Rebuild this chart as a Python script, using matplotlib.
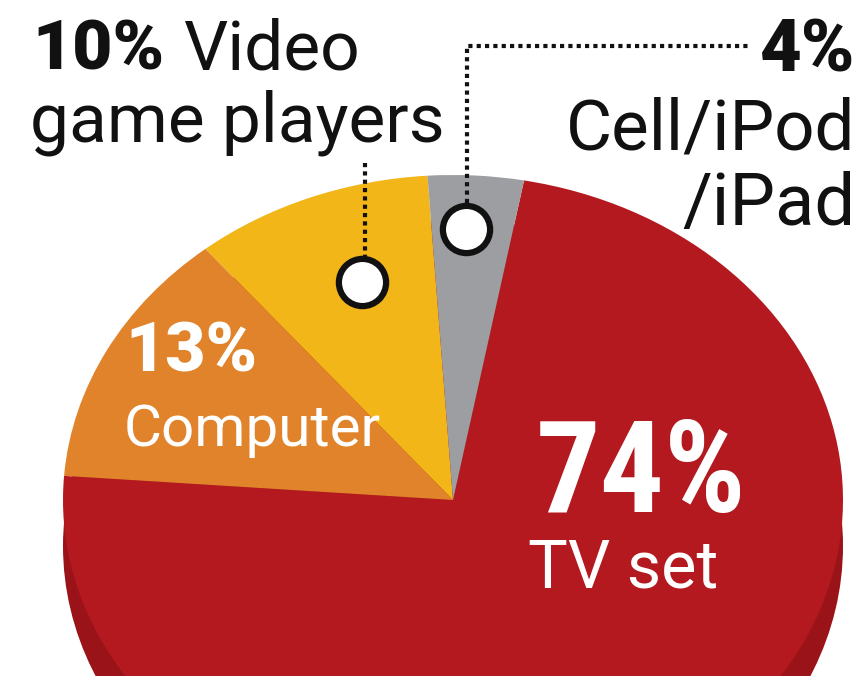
import matplotlib.pyplot as plt
from matplotlib.patches import Circle

plt.rcParams['font.family'] = ['Roboto', 'DejaVu Sans']

# where kids watch: share by device
devices = ['TV set', 'Computer', 'Video game players', 'Cell/iPod/iPad']
shares = [74, 13, 10, 4]
colors = ['#b3191e', '#e0832b', '#f2b619', '#9d9ea2']

W, H = 862, 676
SQ = 325 / 390          # vertical squash of the tilted disc
INK = '#111111'

fig = plt.figure(figsize=(W / 100, H / 100), dpi=100)
fig.patch.set_facecolor('white')

# pie axes, y stretched so the disc comes out as an ellipse
ax = fig.add_axes([0, 0, 1, 1])
cx, cy = 453, (H - 500) / SQ
# dark side of the disc showing under the top face
ax.add_patch(Circle((cx, cy - 46 / SQ), 390, color='#9a1318', lw=0, zorder=0))
ax.pie(shares, colors=colors, startangle=79.5, counterclock=False,
       radius=390, center=(cx, cy), wedgeprops=dict(linewidth=0), frame=False)
ax.set_aspect('auto')
ax.set_xlim(0, W)
ax.set_ylim(0, H / SQ)
ax.axis('off')

# overlay in pixel units for labels and leaders
ov = fig.add_axes([0, 0, 1, 1], facecolor='none')
ov.set_xlim(0, W)
ov.set_ylim(H, 0)
ov.axis('off')

dots = dict(color=INK, lw=3, ls=(0, (1, 1)), zorder=3)
ov.plot([365, 365], [163, 258], **dots)
ov.plot([467, 467, 750], [203, 46, 46], **dots)
for x, y in [(362, 282), (466, 229)]:
    ov.plot(x, y, 'o', ms=34, mfc='white', mec=INK, mew=4.5, zorder=4)

# labels outside the pie
ov.text(32, 70, '10%', fontsize=50, fontweight='black', color=INK, va='baseline')
ov.text(183, 70, 'Video', fontsize=50, color=INK, va='baseline')
ov.text(30, 142, 'game players', fontsize=50, color=INK, va='baseline')
ov.text(855, 72, '4%', fontsize=52, fontweight='black', color=INK, va='baseline', ha='right')
ov.text(855, 150, 'Cell/iPod', fontsize=51, color=INK, va='baseline', ha='right')
ov.text(855, 225, '/iPad', fontsize=52, color=INK, va='baseline', ha='right')

# labels on the pie
ov.text(125, 371, '13%', fontsize=50, fontweight='black', color='white', va='baseline')
ov.text(124, 446, 'Computer', fontsize=42, color='white', va='baseline')
ov.text(536, 512, '74%', fontsize=92, fontweight='bold', color='white', va='baseline',
        family=['Liberation Sans Narrow', 'Roboto Condensed', 'Roboto', 'DejaVu Sans'])
ov.text(528, 587, 'TV set', fontsize=48, color='white', va='baseline')

fig.savefig('out.png', dpi=100)
